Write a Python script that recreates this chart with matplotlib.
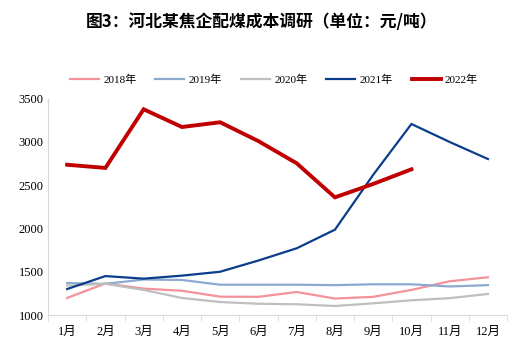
import matplotlib
matplotlib.use("Agg")
import matplotlib.pyplot as plt
import numpy as np

plt.rcParams['font.family'] = ['Liberation Serif', 'Noto Sans CJK SC']

months = ['1月', '2月', '3月', '4月', '5月', '6月', '7月', '8月', '9月', '10月', '11月', '12月']

y2018 = [1197, 1365, 1305, 1280, 1212, 1210, 1266, 1190, 1210, 1290, 1390, 1436]
y2019 = [1370, 1360, 1410, 1405, 1350, 1350, 1350, 1345, 1355, 1355, 1330, 1345]
y2020 = [1340, 1360, 1290, 1197, 1150, 1130, 1124, 1104, 1135, 1170, 1195, 1243]
y2021 = [1300, 1450, 1420, 1455, 1500, 1630, 1771, 1986, 2620, 3208, 3000, 2803]
y2022 = [2737, 2700, 3378, 3173, 3228, 3010, 2754, 2360, 2515, 2684]

series = [
    ('2018年', y2018, '#F4919B', 1.6),
    ('2019年', y2019, '#8EA9D0', 1.6),
    ('2020年', y2020, '#BFBFBF', 1.6),
    ('2021年', y2021, '#0B3D8C', 1.6),
    ('2022年', y2022, '#C00000', 2.8),
]

fig = plt.figure(figsize=(5.19, 3.44), dpi=100)
ax = fig.add_axes([0.0925, 0.0843, 0.8845, 0.6287])

for name, vals, col, lw in series:
    ax.plot(np.arange(len(vals)), vals, color=col, lw=lw, label=name,
            solid_joinstyle='miter')

ax.set_xlim(-0.5, 11.5)
ax.set_ylim(1000, 3500)
ax.set_yticks([1000, 1500, 2000, 2500, 3000, 3500])
ax.set_xticks(np.arange(12))
ax.set_xticklabels(months)
ax.set_xticks(np.arange(-0.5, 12, 1), minor=True)
ax.tick_params(axis='x', which='major', length=0, pad=8, labelsize=9)
ax.tick_params(axis='x', which='minor', length=4, color='#D9D9D9', direction='out')
ax.tick_params(axis='y', length=0, labelsize=9, pad=3)

for s in ['top', 'right']:
    ax.spines[s].set_visible(False)
for s in ['left', 'bottom']:
    ax.spines[s].set_color('#D9D9D9')

fig.text(0.503, 0.936, '图3：河北某焦企配煤成本调研（单位：元/吨）', ha='center', va='center',
         fontsize=12.1, fontweight='bold', family=['Noto Sans CJK SC'])

fig.legend(loc='center', bbox_to_anchor=(0.528, 0.767), ncol=5, frameon=False,
           fontsize=8, handlelength=2.6, columnspacing=1.7, handletextpad=0.4)

fig.savefig('out.png', dpi=100)
